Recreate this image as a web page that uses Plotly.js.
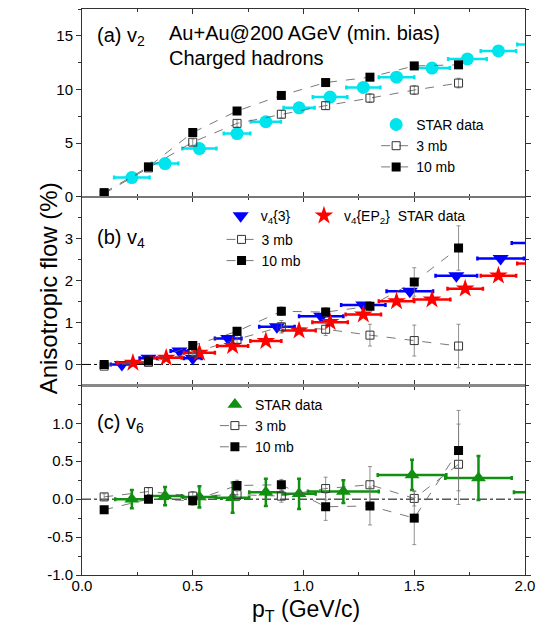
<!DOCTYPE html>
<html><head><meta charset="utf-8">
<script src="https://cdn.plot.ly/plotly-3.0.1.min.js"></script>
<style>html,body{margin:0;padding:0;background:#fff}#chart{width:541px;height:632px}</style>
</head><body><div id="chart"></div><script>
// ---------- data ----------
const ptModel = [0.1, 0.3, 0.5, 0.7, 0.9, 1.1, 1.3, 1.5, 1.7];

// (a) v2
const v2_10mb = [0.4, 2.8, 6.0, 8.0, 9.45, 10.65, 11.15, 12.2, 12.3];
const v2_10mbErr = [0.05, 0.1, 0.15, 0.2, 0.2, 0.25, 0.25, 0.3, 0.3];
const v2_3mb = [0.3, 2.7, 5.1, 6.85, 7.7, 8.5, 9.2, 9.95, 10.6];
const v2_3mbErr = [0.05, 0.1, 0.3, 0.35, 0.35, 0.35, 0.4, 0.4, 0.45];
const v2StarPt = [0.225, 0.375, 0.53, 0.70, 0.83, 0.98, 1.12, 1.27, 1.42, 1.58, 1.74, 1.88, 2.045];
const v2StarPtErr = [0.08, 0.06, 0.077, 0.06, 0.068, 0.07, 0.078, 0.077, 0.08, 0.08, 0.087, 0.08, 0.08];
const v2Star = [1.8, 3.1, 4.5, 5.9, 7.0, 8.3, 9.3, 10.2, 11.15, 12.0, 12.85, 13.6, 14.2];

// (b) v4
const v4_10mb = [0.0, 0.08, 0.45, 0.79, 1.27, 1.25, 1.39, 1.97, 2.78];
const v4_10mbErr = [0.03, 0.04, 0.06, 0.08, 0.1, 0.1, 0.1, 0.34, 0.53];
const v4_3mb = [-0.04, 0.05, 0.28, 0.6, 0.9, 0.84, 0.70, 0.57, 0.44];
const v4_3mbErr = [0.05, 0.05, 0.08, 0.1, 0.15, 0.15, 0.26, 0.37, 0.52];
const v4c3Pt = [0.18, 0.30, 0.44, 0.50, 0.66, 0.88, 1.08, 1.27, 1.48, 1.69, 1.89, 2.04];
const v4c3PtErr = [0.05, 0.04, 0.04, 0.04, 0.06, 0.08, 0.1, 0.1, 0.105, 0.094, 0.105, 0.1];
const v4c3 = [0.0, 0.15, 0.32, 0.15, 0.62, 0.9, 1.15, 1.42, 1.75, 2.12, 2.53, 2.9];
const v4epPt = [0.23, 0.38, 0.53, 0.68, 0.83, 0.98, 1.12, 1.27, 1.42, 1.58, 1.73, 1.88, 2.045];
const v4epPtErr = [0.07, 0.07, 0.07, 0.07, 0.07, 0.075, 0.08, 0.08, 0.08, 0.083, 0.08, 0.08, 0.08];
const v4ep = [0.04, 0.16, 0.28, 0.44, 0.56, 0.81, 1.01, 1.19, 1.51, 1.55, 1.81, 2.12, 2.41];

// (c) v6
const v6_10mb = [-0.14, 0.0, -0.02, 0.18, 0.19, -0.10, -0.09, -0.25, 0.64];
const v6_10mbErr = [0.04, 0.05, 0.06, 0.07, 0.07, 0.18, 0.25, 0.35, 0.53];
const v6_3mb = [0.03, 0.1, 0.04, 0.06, 0.04, 0.14, 0.19, 0.01, 0.46];
const v6_3mbErr = [0.04, 0.05, 0.06, 0.07, 0.08, 0.15, 0.24, 0.1, 0.53];
const v6StarPt = [0.225, 0.375, 0.53, 0.68, 0.83, 0.98, 1.18, 1.49, 1.79, 2.1];
const v6StarPtErr = [0.075, 0.075, 0.075, 0.075, 0.075, 0.075, 0.16, 0.155, 0.15, 0.15];
const v6Star = [0.0, 0.04, 0.03, 0.02, 0.09, 0.07, 0.1, 0.32, 0.28, 0.09];
const v6StarErr = [0.12, 0.12, 0.14, 0.2, 0.18, 0.2, 0.15, 0.2, 0.29, 0.2];

// ---------- helpers ----------
const F = 'Liberation Sans, Arial, Helvetica, sans-serif';
function model(y, err, open, xa, ya, leg, name) {
  return {
    x: ptModel, y: y, xaxis: xa, yaxis: ya, name: name, legend: leg,
    mode: 'lines+markers', type: 'scatter',
    line: {color: '#555', width: 0.8, dash: 'dash'},
    marker: open ? {symbol: 'square-open', size: 8, color: '#333', line: {width: 1, color: '#333'}}
                 : {symbol: 'square', size: 9, color: '#000'},
    error_y: {type: 'data', array: err, visible: true, color: '#777', thickness: 0.8, width: 2}
  };
}
function star(x, xe, y, ye, xa, ya, leg, name, sym, color, size) {
  const t = {
    x: x, y: y, xaxis: xa, yaxis: ya, name: name, legend: leg,
    mode: 'markers', type: 'scatter',
    marker: {symbol: sym, size: size, color: color, line: {width: 0}},
    error_x: {type: 'data', array: xe, visible: true, color: color, thickness: 2.5, width: 2}
  };
  if (ye) t.error_y = {type: 'data', array: ye, visible: true, color: color, thickness: 2.5, width: 2};
  return t;
}

const data = [
  star(v2StarPt, v2StarPtErr, v2Star, null, 'x', 'y', 'legend', 'STAR data', 'circle', 'rgb(0,228,238)', 13),
  model(v2_3mb, v2_3mbErr, true, 'x', 'y', 'legend', '3 mb'),
  model(v2_10mb, v2_10mbErr, false, 'x', 'y', 'legend', '10 mb'),

  star(v4c3Pt, v4c3PtErr, v4c3, null, 'x2', 'y2', 'legend2', 'v<sub>4</sub>{3}', 'triangle-down', '#0000ff', 14),
  star(v4epPt, v4epPtErr, v4ep, null, 'x2', 'y2', 'legend5', 'v<sub>4</sub>{EP<sub>2</sub>}  STAR data', 'star', '#ff0000', 14),
  model(v4_3mb, v4_3mbErr, true, 'x2', 'y2', 'legend3', '3 mb'),
  model(v4_10mb, v4_10mbErr, false, 'x2', 'y2', 'legend3', '10 mb'),

  star(v6StarPt, v6StarPtErr, v6Star, v6StarErr, 'x3', 'y3', 'legend4', 'STAR data', 'triangle-up', '#109010', 13),
  model(v6_3mb, v6_3mbErr, true, 'x3', 'y3', 'legend4', '3 mb'),
  model(v6_10mb, v6_10mbErr, false, 'x3', 'y3', 'legend4', '10 mb')
];

const tickFont = {family: F, size: 15, color: '#000'};
function xax(anchor, labels) {
  return {
    anchor: anchor, range: [0, 2.0], domain: [0, 1],
    showline: true, linecolor: '#333', linewidth: 1, mirror: 'ticks',
    ticks: 'inside', ticklen: 5, tickcolor: '#333',
    tickvals: [0, 0.5, 1.0, 1.5, 2.0], tickformat: '.1f',
    showticklabels: labels, tickfont: tickFont, ticklabelstandoff: -3,
    minor: {ticks: 'inside', ticklen: 3, dtick: 0.25, tick0: 0, tickcolor: '#333'},
    showgrid: false, zeroline: false, fixedrange: true
  };
}
function yax(anchor, dom, range, tv, tt, minorD) {
  return {
    anchor: anchor, domain: dom, range: range,
    showline: true, linecolor: '#333', linewidth: 1, mirror: 'ticks',
    ticks: 'outside', ticklen: 5, tickcolor: '#333',
    tickvals: tv, ticktext: tt, tickfont: tickFont,
    minor: {ticks: 'outside', ticklen: 3, dtick: minorD, tick0: 0, tickcolor: '#333'},
    showgrid: false, zeroline: false, fixedrange: true
  };
}
const legBase = {bgcolor: 'rgba(0,0,0,0)', font: {family: F, size: 14, color: '#000'},
  xanchor: 'left', yanchor: 'top', traceorder: 'normal', tracegroupgap: 0, itemclick: false};

const layout = {
  width: 541, height: 632,
  margin: {l: 82, r: 16, t: 9, b: 57},
  paper_bgcolor: '#fff', plot_bgcolor: '#fff',
  font: {family: F, color: '#000'},
  showlegend: true,
  xaxis: xax('y', false),
  xaxis2: xax('y2', false),
  xaxis3: xax('y3', true),
  yaxis: yax('x', [0.668, 1], [0, 17.5], [0, 5, 10, 15], ['0', '5', '10', '15'], 2.5),
  yaxis2: yax('x2', [0.335, 0.668], [-0.5, 4.0], [0, 1, 2, 3], ['0', '1', '2', '3'], 0.5),
  yaxis3: yax('x3', [0, 0.335], [-1.0, 1.5], [-1, -0.5, 0, 0.5, 1], ['-1.0', '-0.5', '0.0', '0.5', '1.0'], 0.25),
  legend: Object.assign({}, legBase, {x: 0.664, y: 0.8235}),
  legend2: Object.assign({}, legBase, {x: 0.313, y: 0.6625}),
  legend5: Object.assign({}, legBase, {x: 0.501, y: 0.6625}),
  legend3: Object.assign({}, legBase, {x: 0.315, y: 0.6205}),
  legend4: Object.assign({}, legBase, {x: 0.30, y: 0.329}),
  shapes: [
    {type: 'line', xref: 'paper', x0: 0, x1: 1, yref: 'y2', y0: 0, y1: 0, layer: 'below',
     line: {color: '#000', width: 1, dash: 'dashdot'}},
    {type: 'line', xref: 'paper', x0: 0, x1: 1, yref: 'y3', y0: 0, y1: 0, layer: 'below',
     line: {color: '#000', width: 1, dash: 'dashdot'}},
    {type: 'line', xref: 'paper', x0: 0, x1: 1, yref: 'paper', y0: 0.668, y1: 0.668,
     line: {color: '#777', width: 2}},
    {type: 'line', xref: 'paper', x0: 0, x1: 1, yref: 'paper', y0: 0.335, y1: 0.335,
     line: {color: '#888', width: 3}}
  ],
  annotations: [
    {text: '(a) v<sub>2</sub>', xref: 'paper', yref: 'paper', x: 0.029, y: 0.952, xanchor: 'left', yanchor: 'middle', showarrow: false, font: {family: F, size: 20}},
    {text: 'Au+Au@200 AGeV (min. bias)', xref: 'paper', yref: 'paper', x: 0.192, y: 0.958, xanchor: 'left', yanchor: 'middle', showarrow: false, font: {family: F, size: 20}},
    {text: 'Charged hadrons', xref: 'paper', yref: 'paper', x: 0.192, y: 0.913, xanchor: 'left', yanchor: 'middle', showarrow: false, font: {family: F, size: 20}},
    {text: '(b) v<sub>4</sub>', xref: 'paper', yref: 'paper', x: 0.029, y: 0.594, xanchor: 'left', yanchor: 'middle', showarrow: false, font: {family: F, size: 20}},
    {text: '(c) v<sub>6</sub>', xref: 'paper', yref: 'paper', x: 0.029, y: 0.267, xanchor: 'left', yanchor: 'middle', showarrow: false, font: {family: F, size: 20}},
    {text: 'Anisotropic flow (%)', textangle: -90, xref: 'paper', yref: 'paper', x: -0.111, y: 0.507, showarrow: false, font: {family: F, size: 24}},
    {text: 'p<sub>T</sub> (GeV/c)', xref: 'paper', yref: 'paper', x: 0.506, y: -0.062, xanchor: 'center', yanchor: 'middle', showarrow: false, font: {family: F, size: 23}}
  ]
};

Plotly.newPlot('chart', data, layout, {displayModeBar: false, staticPlot: true});
</script></body></html>
